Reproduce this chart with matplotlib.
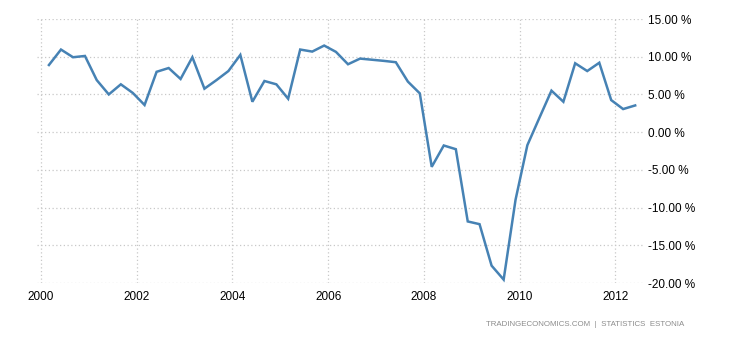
import pandas as pd
import matplotlib.pyplot as plt
import matplotlib.dates as mdates

plt.rcParams['font.family'] = ['Liberation Sans', 'DejaVu Sans']

# Estonia GDP annual growth rate, quarterly
dates = pd.date_range('2000-03-01', periods=50, freq='3MS')
growth = [8.9, 10.95, 9.93, 10.1, 6.9, 5.0, 6.34, 5.2, 3.6, 8.0,
          8.5, 7.05, 9.93, 5.76, 6.9, 8.1, 10.24, 4.03, 6.78, 6.34,
          4.43, 10.95, 10.68, 11.48, 10.64, 9.0, 9.75, 9.6, 9.45, 9.27,
          6.7, 5.14, -4.6, -1.77, -2.26, -11.84, -12.2, -17.7, -19.55, -8.95,
          -1.73, 1.9, 5.5, 4.03, 9.13, 8.1, 9.2, 4.25, 3.06, 3.54]
yticks = [15, 10, 5, 0, -5, -10, -15, -20]
years = [2000, 2002, 2004, 2006, 2008, 2010, 2012]

fig = plt.figure(figsize=(7.3, 3.4), dpi=100)
ax = fig.add_axes([37 / 730, 1 - 283 / 340, 608 / 730, 264 / 340])

ax.plot(dates, growth, color='#4682b4', lw=1.8, solid_joinstyle='miter')

ax.set_ylim(-20, 15)
ax.set_xlim(pd.Timestamp('1999-12-01'), pd.Timestamp('2012-08-15'))
ax.set_yticks(yticks)
ax.set_yticklabels(['%.2f %%' % v for v in yticks])
ax.set_xticks([pd.Timestamp(f'{y}-01-01') for y in years])
ax.xaxis.set_major_formatter(mdates.DateFormatter('%Y'))

ax.yaxis.tick_right()
ax.tick_params(axis='both', length=0, labelsize=8.5, colors='black')
ax.tick_params(axis='y', pad=2)
ax.tick_params(axis='x', pad=6)

ax.grid(True, color='#c8c8c8', linestyle=(0, (1, 2)), linewidth=0.9)
ax.set_axisbelow(True)
for s in ax.spines.values():
    s.set_visible(False)

fig.text(486 / 730, 1 - 325 / 340, 'TRADINGECONOMICS.COM  |  STATISTICS  ESTONIA',
         fontsize=5.7, color='#8c8c8c', va='center', ha='left')

fig.savefig('out.png', dpi=100)
